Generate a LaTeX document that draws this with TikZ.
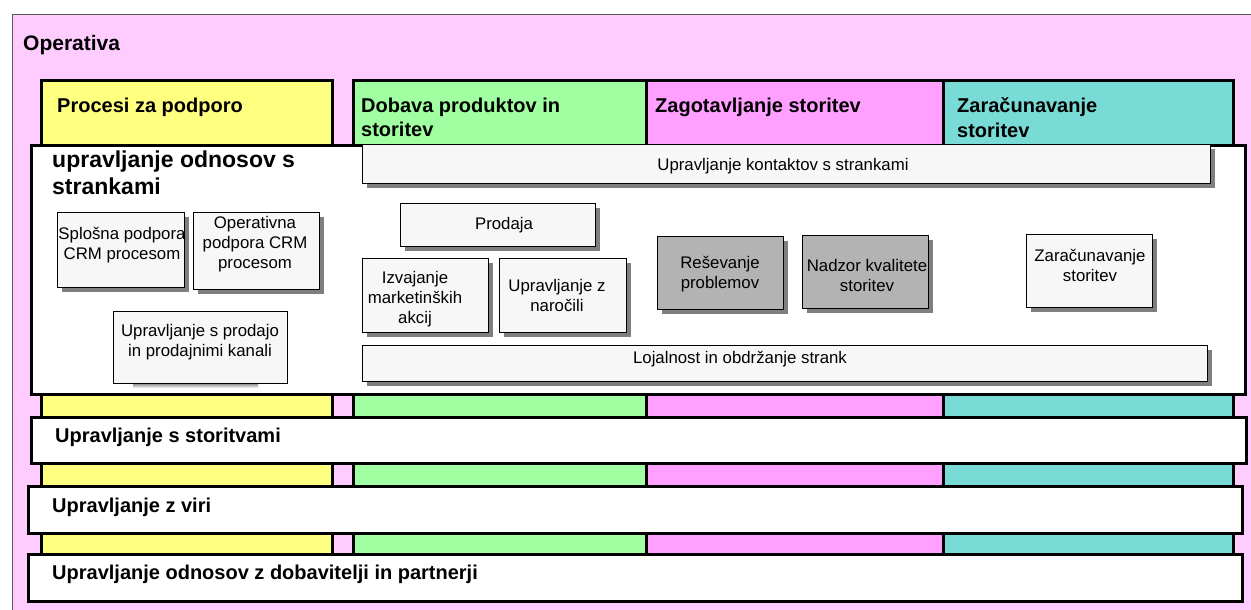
\documentclass[tikz,border=0pt]{standalone}
\usepackage{fontspec}
\setmainfont{Liberation Sans}
\usetikzlibrary{shadows}
\definecolor{bgpink}{HTML}{FFCCFF}
\definecolor{laneyellow}{HTML}{FFFF80}
\definecolor{lanegreen}{HTML}{A0FFA0}
\definecolor{lanepink}{HTML}{FF9FFF}
\definecolor{laneteal}{HTML}{79DBD6}
\definecolor{boxfill}{HTML}{F7F7F7}
\definecolor{boxdark}{HTML}{B3B3B3}
\definecolor{shade}{HTML}{7F7F7F}
% rectangle node from corner to corner: name, style, x1, y1, x2, y2
\newcommand\blk[6]{%
  \node[#2, minimum width={#5-#3}, minimum height={#6-#4}] (#1) at (#3,#4) {};}
\begin{document}
\begin{tikzpicture}[x=1pt,y=-1pt,
  frame/.style={draw=gray!70!black,fill=bgpink,line width=0.8pt,inner sep=0pt,anchor=north west},
  lane/.style={draw=black,line width=3pt,inner sep=0pt,anchor=north west},
  band/.style={draw=black,fill=white,line width=3pt,inner sep=0pt,anchor=north west},
  proc/.style={draw=black,fill=boxfill,line width=0.9pt,inner sep=0pt,anchor=north west,
    general shadow={fill=shade,shadow xshift=5pt,shadow yshift=-5pt}},
  procflat/.style={draw=black,fill=boxfill,line width=0.9pt,inner sep=0pt,anchor=north west},
  dark/.style={fill=boxdark},
  head/.style={font=\bfseries\fontsize{20}{24.5}\selectfont,anchor=north west,inner sep=0pt,align=left},
  title/.style={font=\bfseries\fontsize{23}{27}\selectfont,anchor=north west,inner sep=0pt,align=left},
  txt/.style={font=\fontsize{16.8}{20}\selectfont,anchor=north,inner sep=0pt,align=center},
]
\useasboundingbox (0,0) rectangle (1251,610);

% background frame
\blk{operativa}{frame}{12}{14}{1262}{622}
\node[head,font=\bfseries\fontsize{21}{25}\selectfont] (t-operativa) at (23,35) {Operativa};

% vertical lanes
\blk{laneA}{lane,fill=laneyellow}{39.5}{79.5}{330.5}{590}
\blk{laneB}{lane,fill=lanegreen}{351.5}{79.5}{645}{590}
\blk{laneC}{lane,fill=lanepink}{645}{79.5}{942}{590}
\blk{laneD}{lane,fill=laneteal}{942}{79.5}{1231.5}{590}
\node[head] (t-laneA) at (57,97.5) {Procesi za podporo};
\node[head] (t-laneB) at (361,97.5) {Dobava produktov in\\storitev};
\node[head] (t-laneC) at (655,97.5) {Zagotavljanje storitev};
\node[head] (t-laneD) at (957,97.5) {Zaračunavanje\\storitev};

% customer relationship management block
\blk{crm}{band}{29.5}{143.5}{1243.5}{392.5}
\node[title] (t-crm) at (52,151) {upravljanje odnosov s\\strankami};

% horizontal bands
\blk{bandA}{band}{29.5}{415.5}{1244.5}{461.5}
\blk{bandB}{band}{26.5}{484.5}{1240.5}{531.5}
\blk{bandC}{band}{26.5}{552.5}{1240.5}{599.5}
\node[head] (t-bandA) at (55,428) {Upravljanje s storitvami};
\node[head] (t-bandB) at (52,498) {Upravljanje z viri};
\node[head] (t-bandC) at (52,565) {Upravljanje odnosov z dobavitelji in partnerji};

% process boxes
\blk{kontakt}{proc}{362}{144}{1210}{183}
\blk{prodaja}{proc}{400}{203}{595}{246}
\blk{izvajanje}{proc}{362}{258}{488}{332}
\blk{narocila}{proc}{499}{258}{626}{332}
\blk{resevanje}{proc,dark}{657}{236}{783}{309}
\blk{nadzor}{proc,dark}{802}{235}{928}{308}
\blk{zaracun}{proc}{1026}{234}{1152}{307}
\blk{lojalnost}{proc}{362}{345}{1207}{381}
\blk{splosna}{proc}{57}{212}{184}{287}
\blk{operativna}{proc}{193}{212}{319}{289}
\fill[shade] (133,383) rectangle (258,388);
\blk{prodajo}{procflat}{113}{311}{287}{383}

\node[txt] (t-kontakt) at (783,158) {Upravljanje kontaktov s strankami};
\node[txt] (t-prodaja) at (504,217) {Prodaja};
\node[txt] (t-izvajanje) at (415,271) {Izvajanje\\marketinških\\akcij};
\node[txt] (t-narocila) at (557,279) {Upravljanje z\\naročili};
\node[txt] (t-resevanje) at (720,256) {Reševanje\\problemov};
\node[txt] (t-nadzor) at (867,259) {Nadzor kvalitete\\storitev};
\node[txt] (t-zaracun) at (1090,249) {Zaračunavanje\\storitev};
\node[txt] (t-lojalnost) at (740,351) {Lojalnost in obdržanje strank};
\node[txt] (t-splosna) at (122,227) {Splošna podpora\\CRM procesom};
\node[txt] (t-operativna) at (255,216) {Operativna\\podpora CRM\\procesom};
\node[txt] (t-prodajo) at (200,324) {Upravljanje s prodajo\\in prodajnimi kanali};
\end{tikzpicture}
\end{document}
